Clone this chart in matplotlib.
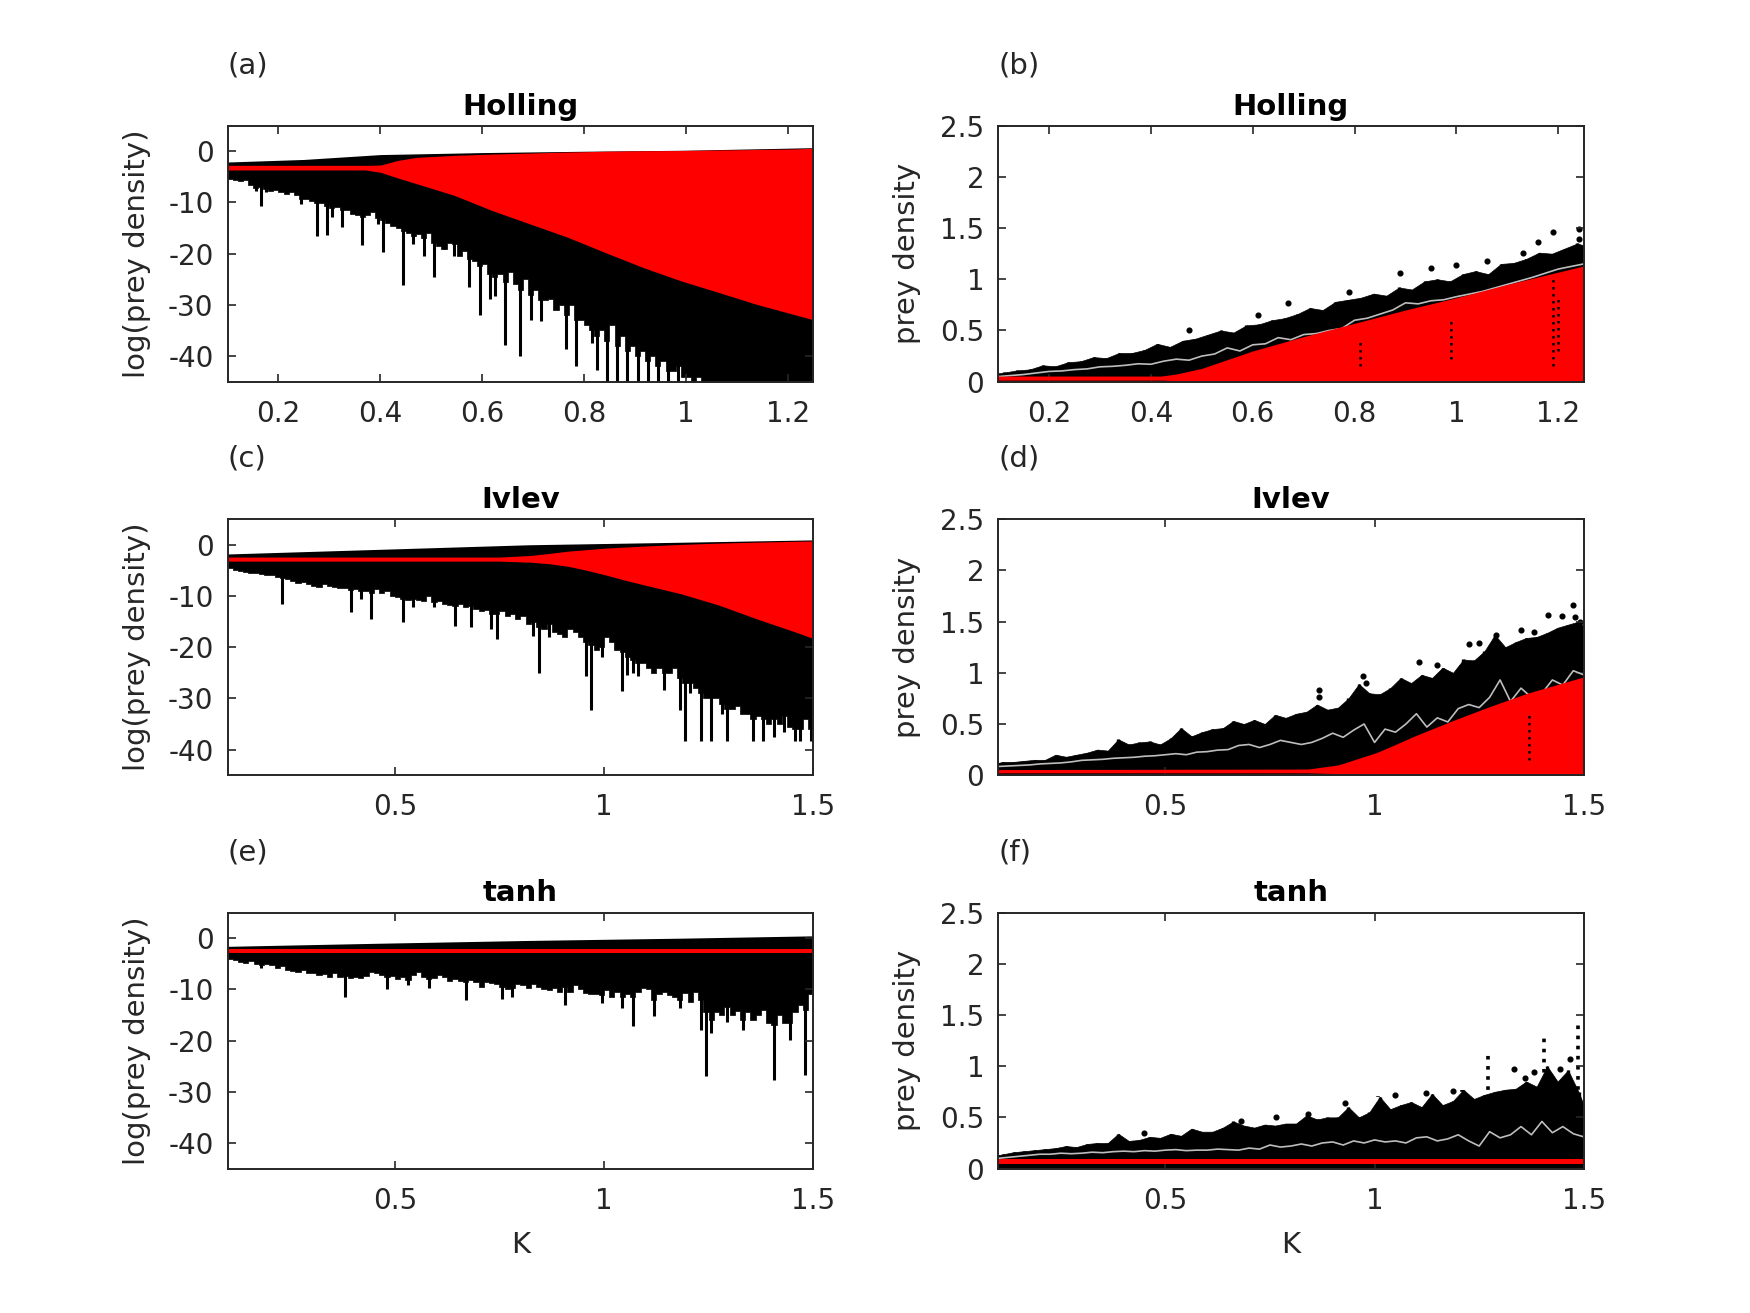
import numpy as np
import matplotlib
matplotlib.use('Agg')
import matplotlib.pyplot as plt

plt.rcParams['font.family'] = ['DejaVu Sans']
plt.rcParams['axes.unicode_minus'] = False

AXC = '#262626'
RED = '#ff0000'
GRAY = '#bdbdbd'

# ================= (a) Holling, log(prey density) =================
a_top_k = [0.1, 0.25, 0.4, 0.6, 0.8, 1.0, 1.25]
a_top = [-2.1, -1.6, -0.65, -0.26, 0.0, 0.2, 0.7]
# lower edge of the dense cloud, one value per 0.01 of K (centres 0.105 ... 1.245)
a_body_k = np.round(np.arange(0.105, 1.25, 0.01), 4)
a_body = [-5.4, -5.6, -5.8, -5.7, -6.5, -7.2, -7.0, -7.4, -7.8, -7.6,
          -8.0, -8.3, -7.9, -8.6, -9.3, -9.4, -9.8, -10.2, -10.2, -10.6,
          -11.0, -10.8, -11.5, -11.5, -12.2, -12.4, -12.8, -12.4, -11.8, -13.0,
          -13.5, -14.0, -14.5, -15.0, -15.5, -16.0, -16.5, -16.2, -17.0, -16.0,
          -18.0, -18.5, -19.1, -18.0, -18.1, -20.5, -19.5, -21.0, -21.5, -22.5,
          -22.0, -24.0, -24.5, -24.0, -25.5, -23.5, -26.0, -27.0, -25.0, -28.0,
          -27.0, -29.0, -29.0, -28.8, -31.0, -30.0, -32.0, -30.0, -33.0, -33.0,
          -34.0, -35.0, -36.0, -35.0, -37.0, -34.0, -38.0, -36.0, -39.0, -38.0,
          -40.0, -39.0, -41.0, -40.0, -42.0, -41.0, -43.0, -43.0, -42.0, -44.0,
          -44.0, -45.0, -44.0, -45.0, -45.0, -45.0, -45.0, -45.0, -45.0, -45.0,
          -45.0, -45.0, -45.0, -45.0, -45.0, -45.0, -45.0, -45.0, -45.0, -45.0,
          -45.0, -45.0, -45.0, -45.0, -45.0]
a_spike_k = [0.155, 0.165, 0.175, 0.245, 0.275, 0.295, 0.305, 0.325, 0.365, 0.395,
             0.405, 0.445, 0.465, 0.485, 0.505, 0.525, 0.545, 0.575, 0.595, 0.615,
             0.625, 0.645, 0.675, 0.695, 0.715, 0.765, 0.785, 0.815, 0.825, 0.845,
             0.865, 0.885, 0.905, 0.925, 0.945, 0.965, 0.985]
a_spike_tip = [-7.7, -10.6, -8.0, -10.3, -16.5, -16.4, -12.9, -14.7, -18.3, -14.2,
               -19.6, -26.2, -18.1, -20.4, -24.5, -19.1, -20.5, -26.6, -31.9, -28.9,
               -28.3, -37.8, -40.0, -32.9, -33.2, -38.7, -42.0, -37.4, -42.7, -45.0,
               -45.0, -45.0, -45.0, -45.0, -45.0, -45.0, -45.0]
a_red_k = [0.1, 0.37, 0.4, 0.434, 0.47, 0.545, 0.62, 0.694, 0.768, 0.842, 0.916, 0.99, 1.065, 1.139, 1.213, 1.25]
a_red_up = [-2.75, -2.75, -2.7, -1.8, -1.2, -0.8, -0.55, -0.35, -0.15, 0.0, 0.1, 0.15, 0.25, 0.35, 0.45, 0.6]
a_red_lo = [-3.65, -3.65, -4.1, -5.2, -6.3, -8.6, -11.6, -14.2, -16.8, -19.8, -22.7, -25.3, -27.6, -29.9, -31.9, -32.9]

# ================= (c) Ivlev, log(prey density) =================
c_top_k = [0.1, 0.46, 0.82, 1.19, 1.5]
c_top = [-1.8, -0.9, 0.0, 0.5, 0.95]
c_body_k = np.round(np.arange(0.10625, 1.5, 0.0125), 5)
c_body = [-4.5, -4.9, -5.2, -5.4, -5.6, -5.6, -5.8, -6.0,
          -6.0, -6.3, -6.5, -6.7, -7.0, -7.4, -7.2, -7.6,
          -8.0, -8.2, -7.6, -8.0, -8.3, -8.5, -8.5, -8.8,
          -8.6, -9.0, -9.0, -9.5, -8.6, -9.5, -9.0, -10.0,
          -10.2, -10.5, -10.8, -10.5, -10.8, -11.0, -10.0, -11.2,
          -11.0, -11.5, -11.8, -12.0, -11.5, -12.2, -12.0, -12.5,
          -13.0, -12.8, -13.5, -13.5, -13.0, -14.0, -13.5, -14.5,
          -14.0, -15.5, -15.0, -16.0, -16.5, -15.5, -17.0, -17.5,
          -18.0, -16.5, -17.0, -18.0, -19.0, -19.5, -20.5, -20.0,
          -18.0, -19.0, -20.5, -21.0, -22.0, -22.5, -23.0, -23.0,
          -24.0, -25.0, -24.0, -25.0, -25.0, -24.0, -26.0, -27.0,
          -27.0, -28.0, -29.0, -30.0, -30.0, -30.0, -31.0, -32.0,
          -32.0, -31.5, -33.0, -33.0, -34.0, -33.5, -34.0, -35.0,
          -34.0, -35.0, -33.5, -35.5, -36.0, -36.0, -34.0, -36.0]
c_spike_k = [0.231, 0.394, 0.419, 0.444, 0.519, 0.544, 0.594, 0.644, 0.681, 0.731,
             0.744, 0.831, 0.844, 0.869, 0.956, 0.969, 0.994, 1.044, 1.056, 1.069,
             1.081, 1.144, 1.181, 1.194, 1.206, 1.231, 1.256, 1.281, 1.294, 1.356,
             1.381, 1.406, 1.431, 1.456, 1.469, 1.494]
c_spike_tip = [-11.6, -13.2, -10.6, -14.4, -15.0, -12.2, -12.2, -15.8, -16.0, -16.5,
               -18.5, -17.8, -25.0, -18.0, -25.6, -32.2, -22.0, -28.6, -25.5, -25.0,
               -25.6, -28.3, -32.2, -38.4, -29.0, -38.4, -38.4, -33.0, -38.4, -38.4,
               -38.4, -37.5, -36.5, -38.4, -38.4, -38.4]
c_red_k = [0.1, 0.75, 0.823, 0.868, 0.914, 0.959, 1.004, 1.049, 1.094, 1.185, 1.275, 1.366, 1.456, 1.5]
c_red_up = [-2.4, -2.4, -2.1, -1.7, -1.25, -0.95, -0.65, -0.45, -0.26, 0.07, 0.33, 0.52, 0.68, 0.75]
c_red_lo = [-3.2, -3.2, -3.4, -3.7, -4.2, -5.0, -5.9, -6.9, -7.8, -9.6, -11.8, -14.5, -17.0, -18.3]

# ================= (e) tanh, log(prey density) =================
e_top_k = [0.1, 0.46, 0.82, 1.19, 1.5]
e_top = [-1.6, -1.0, -0.45, 0.0, 0.45]
e_body_k = np.round(np.arange(0.10625, 1.5, 0.0125), 5)
e_body = [-4.0, -4.3, -4.6, -4.8, -4.5, -5.0, -5.2, -5.0,
          -5.2, -5.8, -5.4, -6.2, -6.5, -6.6, -6.3, -6.8,
          -6.9, -7.2, -7.0, -7.5, -6.8, -7.6, -7.4, -7.8,
          -7.6, -7.8, -7.3, -6.6, -6.9, -7.2, -7.5, -7.4,
          -8.0, -7.5, -8.2, -7.2, -6.6, -7.6, -8.0, -7.8,
          -7.2, -7.5, -8.4, -8.0, -8.4, -8.6, -8.2, -8.5,
          -9.5, -8.6, -8.8, -9.0, -9.5, -10.0, -9.8, -9.0,
          -9.2, -9.8, -9.0, -9.5, -10.0, -10.2, -9.8, -10.5,
          -9.6, -10.5, -9.2, -10.0, -10.8, -11.0, -11.0, -11.2,
          -10.2, -11.5, -10.5, -11.5, -11.0, -11.5, -10.5, -9.8,
          -10.0, -12.0, -11.0, -10.5, -11.2, -11.5, -12.0, -10.8,
          -12.5, -10.5, -12.0, -14.5, -16.0, -14.5, -15.0, -13.5,
          -15.0, -14.2, -16.0, -14.5, -16.0, -15.0, -14.0, -16.5,
          -17.0, -15.0, -16.5, -16.5, -14.5, -13.0, -14.0, -11.0]
e_spike_k = [0.181, 0.381, 0.481, 0.531, 0.581, 0.669, 0.756, 0.781, 0.906, 0.994,
             1.044, 1.069, 1.119, 1.181, 1.231, 1.244, 1.256, 1.294, 1.331, 1.406,
             1.444, 1.481]
e_spike_tip = [-5.9, -11.4, -10.0, -9.2, -9.8, -12.1, -11.8, -11.5, -13.1, -12.7,
               -13.7, -17.2, -15.2, -13.6, -18.0, -27.0, -18.5, -16.3, -18.0, -27.8,
               -19.9, -26.8]
e_red_k = [0.1, 1.5]
e_red_up = [-2.15, -2.15]
e_red_lo = [-2.95, -2.95]

# ================= (b) Holling, prey density =================
b_fuzz_k = np.r_[0.1, np.round(np.arange(0.1125, 1.25, 0.025), 5), 1.25]
b_fuzz = [0.08,
          0.09, 0.11, 0.12, 0.16, 0.15, 0.19,
          0.2, 0.24, 0.23, 0.28, 0.28, 0.31,
          0.37, 0.34, 0.4, 0.42, 0.46, 0.5,
          0.48, 0.55, 0.56, 0.6, 0.62, 0.66,
          0.72, 0.7, 0.78, 0.8, 0.82, 0.86,
          0.84, 0.92, 0.9, 0.98, 1.0, 0.98,
          1.05, 1.08, 1.05, 1.15, 1.16, 1.2,
          1.26, 1.25, 1.3, 1.35,
          1.33]
b_red_k = [0.1, 0.42, 0.45, 0.5, 0.6, 0.7, 0.8, 0.9, 1.0, 1.1, 1.2, 1.25]
b_red_up = [0.055, 0.055, 0.075, 0.13, 0.3, 0.44, 0.57, 0.7, 0.82, 0.95, 1.07, 1.13]
b_red_lo = [0.015, 0.015, 0.01, 0.005, 0, 0, 0, 0, 0, 0, 0, 0]
b_mean_k = [0.1, 0.125, 0.15, 0.175, 0.2, 0.225, 0.25, 0.275, 0.3, 0.325, 0.35, 0.375,
            0.4, 0.425, 0.45, 0.475, 0.5, 0.525, 0.55, 0.575, 0.6, 0.625, 0.65, 0.675,
            0.7, 0.725, 0.75, 0.775, 0.8, 0.825, 0.85, 0.875, 0.9, 0.925, 0.95, 0.975,
            1.0, 1.05, 1.1, 1.15, 1.2, 1.25]
b_mean = [0.05, 0.06, 0.07, 0.085, 0.1, 0.105, 0.118, 0.125, 0.145, 0.15, 0.16, 0.175,
          0.17, 0.2, 0.22, 0.21, 0.25, 0.27, 0.33, 0.3, 0.36, 0.37, 0.43, 0.41,
          0.46, 0.47, 0.5, 0.52, 0.6, 0.62, 0.66, 0.7, 0.77, 0.76, 0.79, 0.8,
          0.83, 0.88, 0.95, 1.02, 1.1, 1.15]
b_dot_k = [0.475, 0.61, 0.67, 0.79, 0.89, 0.95, 1.0, 1.06, 1.13, 1.16, 1.19, 1.24, 1.24]
b_dot = [0.5, 0.65, 0.77, 0.88, 1.06, 1.11, 1.14, 1.18, 1.26, 1.36, 1.46, 1.49, 1.39]
b_col_k = [0.81, 0.99, 1.19, 1.2]
b_col_lo = [0.15, 0.22, 0.15, 0.3]
b_col_hi = [0.42, 0.6, 1.0, 0.85]

# ================= (d) Ivlev, prey density =================
d_fuzz_k = np.r_[0.1, np.round(np.arange(0.1125, 1.5, 0.025), 5), 1.5]
d_fuzz = [0.12,
          0.13, 0.13, 0.14, 0.15, 0.15, 0.2, 0.18, 0.2,
          0.22, 0.25, 0.24, 0.35, 0.3, 0.32, 0.33, 0.3,
          0.36, 0.46, 0.38, 0.42, 0.45, 0.46, 0.53, 0.5,
          0.54, 0.5, 0.59, 0.56, 0.6, 0.62, 0.69, 0.64,
          0.66, 0.75, 0.89, 0.8, 0.79, 0.85, 0.95, 0.9,
          0.98, 0.95, 1.05, 1.0, 1.13, 1.12, 1.21, 1.37,
          1.25, 1.3, 1.34, 1.35, 1.39, 1.44, 1.47, 1.5,
          1.45]
d_red_k = [0.1, 0.84, 0.913, 1.004, 1.05, 1.094, 1.185, 1.275, 1.365, 1.5]
d_red_up = [0.055, 0.06, 0.1, 0.22, 0.3, 0.38, 0.53, 0.67, 0.8, 0.96]
d_red_lo = [0.023, 0.023, 0.015, 0.005, 0, 0, 0, 0, 0, 0]
d_mean_k = np.round(np.arange(0.1, 1.5001, 0.025), 4)
d_mean = [0.085, 0.09, 0.095, 0.1, 0.11, 0.115, 0.12, 0.13, 0.145, 0.15, 0.155, 0.165,
          0.17, 0.175, 0.185, 0.19, 0.2, 0.21, 0.2, 0.225, 0.23, 0.245, 0.25, 0.29,
          0.3, 0.27, 0.3, 0.34, 0.32, 0.3, 0.32, 0.36, 0.41, 0.37, 0.44, 0.5,
          0.32, 0.45, 0.42, 0.5, 0.6, 0.47, 0.56, 0.52, 0.65, 0.69, 0.66, 0.76,
          0.93, 0.72, 0.85, 0.76, 0.8, 0.93, 0.88, 1.02, 0.98]
d_dot_k = [0.868, 0.868, 0.972, 0.98, 1.107, 1.15, 1.225, 1.25, 1.29, 1.35, 1.38, 1.415, 1.447, 1.475, 1.48, 1.49]
d_dot = [0.83, 0.76, 0.97, 0.9, 1.11, 1.08, 1.28, 1.29, 1.37, 1.42, 1.4, 1.56, 1.55, 1.66, 1.54, 1.5]
d_col_k = [1.37]
d_col_lo = [0.15]
d_col_hi = [0.62]

# ================= (f) tanh, prey density =================
f_fuzz_k = np.r_[0.1, np.round(np.arange(0.1125, 1.5, 0.025), 5), 1.5]
f_fuzz = [0.13,
          0.14, 0.16, 0.17, 0.18, 0.19, 0.2, 0.22, 0.21,
          0.24, 0.25, 0.25, 0.34, 0.27, 0.28, 0.31, 0.3,
          0.34, 0.32, 0.39, 0.36, 0.36, 0.4, 0.46, 0.42,
          0.4, 0.43, 0.42, 0.44, 0.44, 0.52, 0.48, 0.5,
          0.5, 0.6, 0.5, 0.55, 0.7, 0.58, 0.62, 0.65,
          0.6, 0.73, 0.62, 0.66, 0.77, 0.68, 0.72, 0.75,
          0.77, 0.78, 0.85, 0.8, 1.0, 0.85, 0.96, 0.75,
          0.62]
f_red_k = [0.1, 1.5]
f_red_up = [0.09, 0.09]
f_red_lo = [0.047, 0.047]
f_mean_k = np.round(np.arange(0.1, 1.5001, 0.025), 4)
f_mean = [0.1, 0.11, 0.12, 0.13, 0.14, 0.14, 0.15, 0.145, 0.15, 0.16, 0.155, 0.165,
          0.17, 0.165, 0.175, 0.17, 0.18, 0.185, 0.175, 0.18, 0.18, 0.19, 0.185, 0.18,
          0.2, 0.19, 0.23, 0.21, 0.22, 0.24, 0.22, 0.25, 0.26, 0.23, 0.27, 0.25,
          0.28, 0.26, 0.27, 0.25, 0.3, 0.31, 0.27, 0.29, 0.33, 0.27, 0.22, 0.36,
          0.3, 0.33, 0.41, 0.33, 0.46, 0.35, 0.41, 0.34, 0.31]
f_dot_k = [0.45, 0.68, 0.765, 0.84, 0.93, 1.05, 1.124, 1.187, 1.334, 1.36, 1.38, 1.42, 1.444, 1.467]
f_dot = [0.35, 0.46, 0.5, 0.53, 0.64, 0.72, 0.74, 0.76, 0.97, 0.88, 0.94, 0.9, 0.97, 1.07]
f_col_k = [1.008, 1.21, 1.27, 1.404, 1.487]
f_col_lo = [0.5, 0.55, 0.67, 0.54, 0.57]
f_col_hi = [0.71, 0.77, 1.14, 1.32, 1.4]

# ================= layout =================
fig = plt.figure(figsize=(17.5, 13.13), dpi=100)
LEFTS = [0.13, 0.5703]
BOTTOMS = [0.7093, 0.4096, 0.11]
W, H = 0.3347, 0.195
FS_TICK = 20
FS_LAB = 21


def style(ax, xlim, xticks, ylim, yticks, title, panel, ylabel, xlabel=None):
    ax.set_xlim(*xlim)
    ax.set_ylim(*ylim)
    ax.set_xticks(xticks)
    ax.set_xticklabels([f"{v:g}" for v in xticks])
    ax.set_yticks(yticks)
    ax.set_yticklabels([f"{v:g}" for v in yticks])
    ax.tick_params(direction='in', length=6, width=1.2, colors=AXC, labelsize=FS_TICK,
                   top=True, right=True, labelcolor=AXC)
    ax.tick_params(axis='x', pad=13)
    ax.tick_params(axis='y', pad=10)
    for s in ax.spines.values():
        s.set_color(AXC)
        s.set_linewidth(1.4)
        s.set_zorder(10)
    ax.set_title(title, fontsize=FS_LAB, fontweight='bold', pad=8)
    ax.text(0.0, 1.235, panel, transform=ax.transAxes, fontsize=FS_LAB, color=AXC,
            ha='left', va='center')
    ax.set_ylabel(ylabel, fontsize=FS_LAB, color=AXC)
    ax.yaxis.set_label_coords(-0.155, 0.5)
    ax.yaxis.label.set_va('center')
    if xlabel:
        ax.set_xlabel(xlabel, fontsize=FS_LAB, color=AXC)
        ax.xaxis.set_label_coords(0.5, -0.30)
        ax.xaxis.label.set_va('center')


def log_panel(ax, xlim, top_k, top, body_k, body, spk, tip, red_k, red_up, red_lo):
    # extend the first / last comb value to the axis edges
    bk = np.r_[xlim[0], body_k, xlim[1]]
    bv = np.r_[body[0], body, body[-1]]
    ax.fill_between(top_k, top, -3.0, color='k', lw=0, zorder=1)
    ax.fill_between(bk, bv, -2.5, step='mid', color='k', lw=0.5, edgecolor='k', zorder=1)
    ax.vlines(spk, tip, -3.0, colors='k', lw=2.2, zorder=1)
    ax.fill_between(red_k, red_lo, red_up, color=RED, lw=0, zorder=3)


def lin_panel(ax, fuzz_k, fuzz, mean_k, mean, red_k, red_up, red_lo, dot_k, dot):
    ax.fill_between(fuzz_k, 0, fuzz, color='k', lw=0.5, edgecolor='k', zorder=1)
    ax.vlines(fuzz_k, 0, fuzz, colors='k', lw=2.4, zorder=1)
    ax.plot(dot_k, dot, ls='none', marker='o', ms=3.4, color='k', zorder=1)
    ax.plot(mean_k, mean, color=GRAY, lw=1.2, zorder=2)
    ax.fill_between(red_k, red_lo, red_up, color=RED, lw=0, zorder=3)


LOG_YT = [-40, -30, -20, -10, 0]
LIN_YT = [0, 0.5, 1, 1.5, 2, 2.5]
DOTTED = (0, (1.0, 1.8))

# (a)
ax = fig.add_axes([LEFTS[0], BOTTOMS[0], W, H])
log_panel(ax, (0.1, 1.25), a_top_k, a_top, a_body_k, a_body, a_spike_k, a_spike_tip,
          a_red_k, a_red_up, a_red_lo)
style(ax, (0.1, 1.25), [0.2, 0.4, 0.6, 0.8, 1.0, 1.2], (-45, 5), LOG_YT,
      'Holling', '(a)', 'log(prey density)')

# (b)
ax = fig.add_axes([LEFTS[1], BOTTOMS[0], W, H])
lin_panel(ax, b_fuzz_k, b_fuzz, b_mean_k, b_mean, b_red_k, b_red_up, b_red_lo, b_dot_k, b_dot)
ax.vlines(b_col_k, b_col_lo, b_col_hi, colors='k', lw=1.8, linestyles=DOTTED, zorder=4)
style(ax, (0.1, 1.25), [0.2, 0.4, 0.6, 0.8, 1.0, 1.2], (0, 2.5), LIN_YT,
      'Holling', '(b)', 'prey density')

# (c)
ax = fig.add_axes([LEFTS[0], BOTTOMS[1], W, H])
log_panel(ax, (0.1, 1.5), c_top_k, c_top, c_body_k, c_body, c_spike_k, c_spike_tip,
          c_red_k, c_red_up, c_red_lo)
style(ax, (0.1, 1.5), [0.5, 1.0, 1.5], (-45, 5), LOG_YT,
      'Ivlev', '(c)', 'log(prey density)')

# (d)
ax = fig.add_axes([LEFTS[1], BOTTOMS[1], W, H])
lin_panel(ax, d_fuzz_k, d_fuzz, d_mean_k, d_mean, d_red_k, d_red_up, d_red_lo, d_dot_k, d_dot)
ax.vlines(d_col_k, d_col_lo, d_col_hi, colors='k', lw=1.8, linestyles=DOTTED, zorder=4)
style(ax, (0.1, 1.5), [0.5, 1.0, 1.5], (0, 2.5), LIN_YT,
      'Ivlev', '(d)', 'prey density')

# (e)
ax = fig.add_axes([LEFTS[0], BOTTOMS[2], W, H])
log_panel(ax, (0.1, 1.5), e_top_k, e_top, e_body_k, e_body, e_spike_k, e_spike_tip,
          e_red_k, e_red_up, e_red_lo)
style(ax, (0.1, 1.5), [0.5, 1.0, 1.5], (-45, 5), LOG_YT,
      'tanh', '(e)', 'log(prey density)', 'K')

# (f)
ax = fig.add_axes([LEFTS[1], BOTTOMS[2], W, H])
lin_panel(ax, f_fuzz_k, f_fuzz, f_mean_k, f_mean, f_red_k, f_red_up, f_red_lo, f_dot_k, f_dot)
ax.vlines(f_col_k, f_col_lo, f_col_hi, colors='k', lw=2.6, linestyles=DOTTED, zorder=1)
style(ax, (0.1, 1.5), [0.5, 1.0, 1.5], (0, 2.5), LIN_YT,
      'tanh', '(f)', 'prey density', 'K')

fig.savefig('out.png', dpi=100, facecolor='white')
